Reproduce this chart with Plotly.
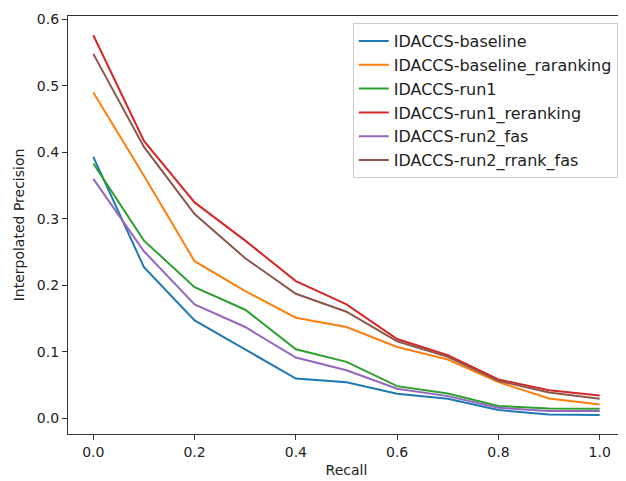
import plotly.graph_objects as go

recall = [0.0, 0.1, 0.2, 0.3, 0.4, 0.5, 0.6, 0.7, 0.8, 0.9, 1.0]

baseline = [0.393, 0.227, 0.147, 0.103, 0.0595, 0.054, 0.0365, 0.029, 0.012, 0.0055, 0.0045]
baseline_raranking = [0.490, 0.3645, 0.236, 0.191, 0.151, 0.137, 0.107, 0.088, 0.054, 0.0295, 0.0205]
run1 = [0.383, 0.267, 0.197, 0.163, 0.1035, 0.0845, 0.048, 0.037, 0.018, 0.0145, 0.014]
run1_reranking = [0.576, 0.417, 0.3245, 0.267, 0.206, 0.171, 0.119, 0.0945, 0.058, 0.042, 0.034]
run2_fas = [0.360, 0.251, 0.171, 0.137, 0.091, 0.072, 0.044, 0.033, 0.0155, 0.0105, 0.0105]
run2_rrank_fas = [0.548, 0.408, 0.307, 0.2405, 0.187, 0.160, 0.1155, 0.092, 0.056, 0.0385, 0.029]

series = [
  ("IDACCS-baseline", baseline, "#1f77b4"),
  ("IDACCS-baseline_raranking", baseline_raranking, "#ff7f0e"),
  ("IDACCS-run1", run1, "#2ca02c"),
  ("IDACCS-run1_reranking", run1_reranking, "#d62728"),
  ("IDACCS-run2_fas", run2_fas, "#9467bd"),
  ("IDACCS-run2_rrank_fas", run2_rrank_fas, "#8c564b"),
]

fig = go.Figure()
for name, vals, color in series:
  fig.add_trace(go.Scatter(x=recall, y=vals, mode="lines", name=name,
                           line=dict(color=color, width=2)))

axis_style = dict(showgrid=False, zeroline=False, showline=True, mirror=True,
                  linecolor="#333333", linewidth=1.2, ticks="outside",
                  ticklen=5, tickcolor="#333333",
                  tickfont=dict(size=14, color="#222222"))

# page body has an 8px margin, so the figure is sized and padded to land where the reference axes are
fig.update_layout(
  width=618, height=473,
  margin=dict(l=60, r=1, t=8, b=47),
  paper_bgcolor="white", plot_bgcolor="white",
  font=dict(family="DejaVu Sans", size=14, color="#222222"),
  legend=dict(x=0.987, y=0.983, xanchor="right", yanchor="top",
              bordercolor="#cccccc", borderwidth=1, bgcolor="rgba(255,255,255,0.8)",
              font=dict(size=16), tracegroupgap=0),
  xaxis=dict(range=[-0.05, 1.05], tickvals=[0, 0.2, 0.4, 0.6, 0.8, 1.0],
             ticktext=["0.0", "0.2", "0.4", "0.6", "0.8", "1.0"],
             title=dict(text="Recall", font=dict(size=14), standoff=6), **axis_style),
  yaxis=dict(range=[-0.024, 0.605], tickvals=[0, 0.1, 0.2, 0.3, 0.4, 0.5, 0.6],
             ticktext=["0.0", "0.1", "0.2", "0.3", "0.4", "0.5", "0.6"],
             title=dict(text="Interpolated Precision", font=dict(size=14), standoff=8), **axis_style),
)

fig.write_html("out.html")
